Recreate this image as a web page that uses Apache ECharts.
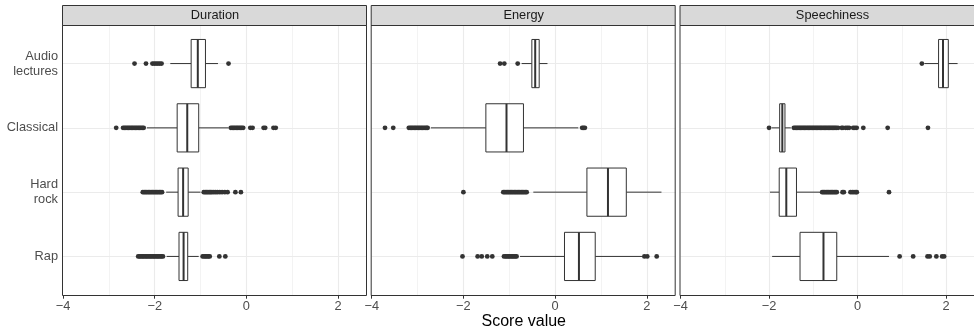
<!DOCTYPE html>
<html>
<head>
<meta charset="utf-8">
<script src="https://cdn.jsdelivr.net/npm/echarts@6/dist/echarts.min.js"></script>
<style>
html,body{margin:0;padding:0;background:#fff;}
#chart{width:974px;height:328px;}
</style>
</head>
<body>
<div id="chart"></div>
<script>
// ---------- data ----------
const categories = ['Audio\nlectures', 'Classical', 'Hard\nrock', 'Rap'];
const panelTitles = ['Duration', 'Energy', 'Speechiness'];
const xTicks = [-4, -2, 0, 2];
const xMinorTicks = [-3, -1, 1];
const xAxisTitle = 'Score value';

// [lower whisker, q1, median, q3, upper whisker] per category
const durationStats = [
  [-1.66, -1.205, -1.06, -0.893, -0.62],
  [-2.17, -1.51, -1.29, -1.04, -0.39],
  [-1.75, -1.49, -1.38, -1.27, -1.0],
  [-1.74, -1.47, -1.37, -1.28, -1.04]
];
const durationOutliers = [
  [-2.44, -2.19, -2.05, -2.01, -1.97, -1.93, -1.89, -1.85, -0.39],
  [-2.84, -2.69, -2.66, -2.63, -2.60, -2.57, -2.54, -2.51, -2.48, -2.45, -2.42, -2.39, -2.36, -2.33, -2.30, -2.27, -2.24,
   -0.34, -0.31, -0.28, -0.25, -0.22, -0.19, -0.16, -0.13, -0.10, -0.07, 0.085, 0.135, 0.375, 0.41, 0.59, 0.64],
  [-2.26, -2.23, -2.20, -2.17, -2.14, -2.11, -2.08, -2.05, -2.02, -1.99, -1.96, -1.93, -1.90, -1.87, -1.84,
   -0.93, -0.90, -0.87, -0.84, -0.81, -0.78, -0.75, -0.71, -0.67, -0.63, -0.58, -0.53, -0.47, -0.41, -0.24, -0.12],
  [-2.36, -2.33, -2.30, -2.27, -2.24, -2.21, -2.18, -2.15, -2.12, -2.09, -2.06, -2.03, -2.00, -1.97, -1.94, -1.91, -1.88, -1.85, -1.82,
   -0.955, -0.92, -0.89, -0.86, -0.83, -0.80, -0.59, -0.46]
];

const energyStats = [
  [-0.73, -0.507, -0.434, -0.347, -0.166],
  [-2.71, -1.51, -1.06, -0.69, 0.506],
  [-0.475, 0.694, 1.153, 1.553, 2.32],
  [-0.765, 0.205, 0.52, 0.875, 1.895]
];
const energyOutliers = [
  [-1.2, -1.108, -0.816],
  [-3.71, -3.53, -3.19, -3.16, -3.13, -3.10, -3.07, -3.04, -3.01, -2.98, -2.95, -2.92, -2.89, -2.86, -2.83, -2.80, -2.78,
   0.59, 0.62, 0.65],
  [-2.0, -1.13, -1.10, -1.07, -1.04, -1.01, -0.98, -0.95, -0.92, -0.89, -0.86, -0.83, -0.80, -0.77, -0.74, -0.71, -0.68, -0.65, -0.62],
  [-2.02, -1.69, -1.60, -1.48, -1.37, -1.115, -1.08, -1.05, -1.02, -0.99, -0.96, -0.93, -0.90, -0.87, -0.84,
   1.947, 2.01, 2.216]
];

const speechinessStats = [
  [1.51, 1.83, 1.93, 2.05, 2.26],
  [-1.94, -1.76, -1.70, -1.64, -1.507],
  [-1.98, -1.77, -1.61, -1.38, -0.85],
  [-1.93, -1.30, -0.77, -0.47, 0.71]
];
const speechinessOutliers = [
  [1.453],
  [-2.0, -1.44, -1.41, -1.38, -1.35, -1.32, -1.29, -1.26, -1.23, -1.20, -1.17, -1.14, -1.11, -1.08, -1.05, -1.02, -0.99,
   -0.96, -0.93, -0.90, -0.87, -0.84, -0.81, -0.78, -0.75, -0.72, -0.69, -0.66, -0.63, -0.60, -0.57, -0.54, -0.51, -0.48, -0.44,
   -0.36, -0.33, -0.27, -0.23, -0.19, -0.10, -0.06, -0.02, 0.13, 0.68, 1.59],
  [-0.80, -0.77, -0.74, -0.71, -0.68, -0.65, -0.62, -0.59, -0.56, -0.53, -0.50, -0.47, -0.34, -0.31,
   -0.16, -0.12, -0.08, -0.04, -0.017, 0.71],
  [0.95, 1.256, 1.58, 1.63, 1.78, 1.91, 1.955]
];

const panelStats = [durationStats, energyStats, speechinessStats];
const panelOutliers = [durationOutliers, energyOutliers, speechinessOutliers];

// ---------- layout ----------
const FONT = '"Liberation Sans", Arial, Helvetica, sans-serif';
const PANEL_LEFT = [63, 371.7, 680.5];
const PANEL_W = 304;
const PANEL_TOP = 25;
const PANEL_H = 270;
const STRIP_TOP = 5;
const STRIP_H = 20;
const PX_PER_UNIT = 45.85;
const X_MIN = -4;
const X_MAX = X_MIN + PANEL_W / PX_PER_UNIT;
const BOX_WIDTH = 0.75;
const DARK = '#333333';
const GRIDC = '#EBEBEB';

const catIdx = categories.map((_, i) => i + 1);

const chart = echarts.init(document.getElementById('chart'), null, {renderer: 'canvas'});

const grids = [], xAxes = [], yAxes = [], series = [], graphics = [];

panelTitles.forEach((title, p) => {
  grids.push({left: PANEL_LEFT[p], top: PANEL_TOP, width: PANEL_W, height: PANEL_H, show: false, containLabel: false});
  xAxes.push({
    gridIndex: p, type: 'value', min: X_MIN, max: X_MAX,
    axisLine: {show: false}, splitLine: {show: false}, minorSplitLine: {show: false},
    axisTick: {show: true, customValues: xTicks, length: 3.7, lineStyle: {color: DARK, width: 1}},
    axisLabel: {customValues: xTicks, margin: 5, color: '#4D4D4D', fontSize: 12.8, fontFamily: FONT,
      formatter: v => String(v).replace('-', '\u2212')}
  });
  yAxes.push({
    gridIndex: p, type: 'value', min: 0.4, max: 4.6, inverse: true,
    axisLine: {show: false}, splitLine: {show: false},
    axisTick: {show: p === 0, customValues: catIdx, length: 3.7, lineStyle: {color: DARK, width: 1}},
    axisLabel: {show: p === 0, customValues: catIdx, margin: 5, color: '#4D4D4D', fontSize: 12.8, fontFamily: FONT,
      lineHeight: 15, align: 'right',
      formatter: v => categories[Math.round(v) - 1]}
  });

  const gridLines = [];
  xTicks.filter(v => v > X_MIN && v < X_MAX).forEach(v => gridLines.push({xAxis: v, lineStyle: {color: GRIDC, width: 1.1, type: 'solid'}}));
  xMinorTicks.forEach(v => gridLines.push({xAxis: v, lineStyle: {color: GRIDC, width: 0.6, type: 'solid'}}));
  catIdx.forEach(v => gridLines.push({yAxis: v, lineStyle: {color: GRIDC, width: 1.1, type: 'solid'}}));

  const pts = [];
  panelOutliers[p].forEach((arr, c) => arr.forEach(v => pts.push([v, c + 1])));
  series.push({
    type: 'scatter', xAxisIndex: p, yAxisIndex: p, z: 2,
    symbol: 'circle', symbolSize: 4.8,
    itemStyle: {color: DARK, opacity: 1},
    data: pts, silent: true, animation: false,
    markLine: {silent: true, z: 1, zlevel: 0, symbol: 'none', animation: false, label: {show: false},
      data: gridLines}
  });

  series.push({
    type: 'custom', xAxisIndex: p, yAxisIndex: p, z: 3, animation: false, silent: true,
    data: panelStats[p].map((s, c) => [c + 1].concat(s)),
    encode: {x: [1, 2, 3, 4, 5], y: 0},
    renderItem: function (params, api) {
      const y = api.value(0);
      const pLo = api.coord([api.value(1), y]);
      const pQ1 = api.coord([api.value(2), y]);
      const pMed = api.coord([api.value(3), y]);
      const pQ3 = api.coord([api.value(4), y]);
      const pHi = api.coord([api.value(5), y]);
      const h = api.size([0, BOX_WIDTH])[1];
      const cy = pQ1[1];
      return {
        type: 'group',
        children: [
          {type: 'line', shape: {x1: pLo[0], y1: cy, x2: pQ1[0], y2: cy}, style: {stroke: DARK, lineWidth: 1}},
          {type: 'line', shape: {x1: pQ3[0], y1: cy, x2: pHi[0], y2: cy}, style: {stroke: DARK, lineWidth: 1}},
          {type: 'rect', shape: {x: pQ1[0], y: cy - h / 2, width: pQ3[0] - pQ1[0], height: h},
            style: {fill: '#ffffff', stroke: DARK, lineWidth: 1}},
          {type: 'line', shape: {x1: pMed[0], y1: cy - h / 2, x2: pMed[0], y2: cy + h / 2},
            style: {stroke: DARK, lineWidth: 2}}
        ]
      };
    }
  });

  // strip
  graphics.push({
    type: 'rect', z: 100, silent: true,
    shape: {x: PANEL_LEFT[p] - 0.5, y: STRIP_TOP + 0.5, width: PANEL_W, height: STRIP_H},
    style: {fill: '#D9D9D9', stroke: DARK, lineWidth: 1}
  });
  graphics.push({
    type: 'text', z: 101, silent: true,
    x: PANEL_LEFT[p] + PANEL_W / 2, y: STRIP_TOP + STRIP_H / 2 + 0.5,
    style: {text: title, fill: '#1A1A1A', font: '12.8px ' + FONT, align: 'center', verticalAlign: 'middle'}
  });
  // panel border
  graphics.push({
    type: 'rect', z: 100, silent: true,
    shape: {x: PANEL_LEFT[p] - 0.5, y: PANEL_TOP + 0.5, width: PANEL_W, height: PANEL_H},
    style: {fill: null, stroke: DARK, lineWidth: 1}
  });
});

graphics.push({
  type: 'text', z: 101, silent: true,
  x: (PANEL_LEFT[0] + PANEL_LEFT[2] + PANEL_W) / 2, y: 321.5,
  style: {text: xAxisTitle, fill: '#000000', font: '16px ' + FONT, align: 'center', verticalAlign: 'middle'}
});

chart.setOption({
  animation: false,
  backgroundColor: '#ffffff',
  grid: grids,
  xAxis: xAxes,
  yAxis: yAxes,
  series: series,
  graphic: {elements: graphics}
});
</script>
</body>
</html>
